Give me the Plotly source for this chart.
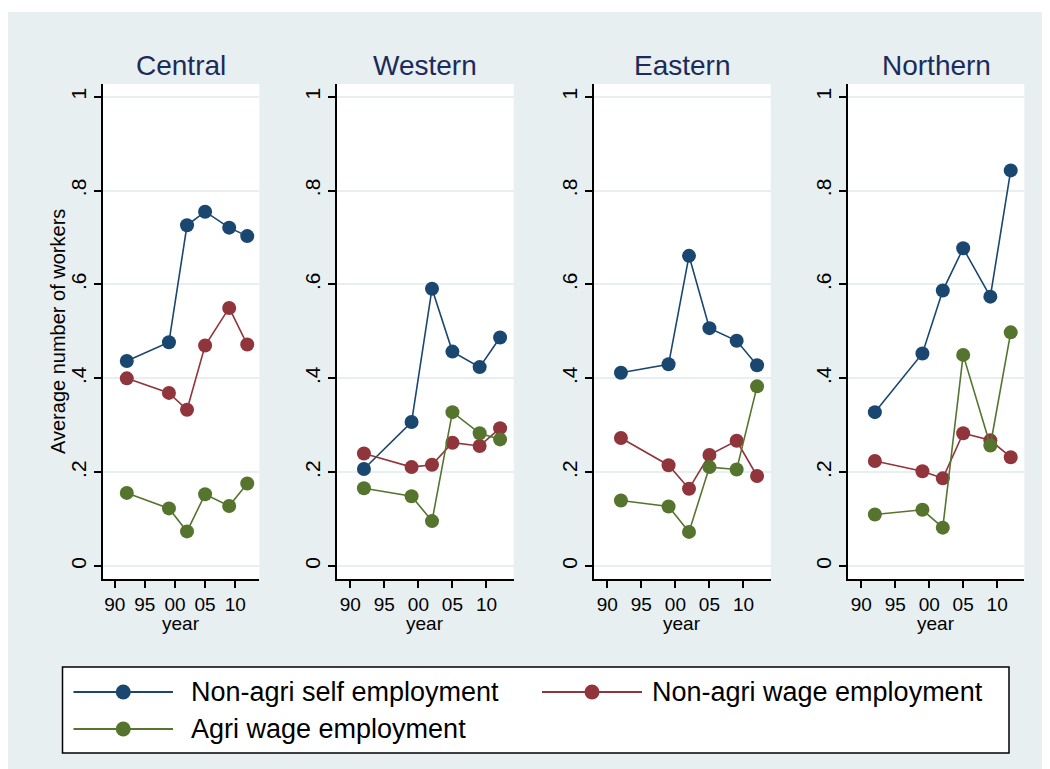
import plotly.graph_objects as go
from plotly.subplots import make_subplots

# survey years and regions
years = [1992, 1999, 2002, 2005, 2009, 2012]
regions = ["Central", "Western", "Eastern", "Northern"]
series_names = ["Non-agri self employment", "Non-agri wage employment", "Agri wage employment"]

# Non-agri self employment
central_self = [0.437, 0.477, 0.726, 0.755, 0.721, 0.703]
western_self = [0.207, 0.307, 0.591, 0.457, 0.424, 0.487]
eastern_self = [0.412, 0.430, 0.661, 0.507, 0.480, 0.428]
northern_self = [0.328, 0.453, 0.587, 0.677, 0.574, 0.843]

# Non-agri wage employment
central_wage = [0.400, 0.369, 0.333, 0.470, 0.550, 0.472]
western_wage = [0.240, 0.211, 0.216, 0.263, 0.256, 0.294]
eastern_wage = [0.273, 0.215, 0.165, 0.237, 0.267, 0.192]
northern_wage = [0.224, 0.202, 0.187, 0.283, 0.268, 0.232]

# Agri wage employment
central_agri = [0.156, 0.123, 0.074, 0.153, 0.128, 0.176]
western_agri = [0.166, 0.149, 0.096, 0.328, 0.283, 0.270]
eastern_agri = [0.140, 0.127, 0.073, 0.211, 0.206, 0.383]
northern_agri = [0.110, 0.120, 0.082, 0.450, 0.257, 0.498]

x_tickvals = [1990, 1995, 2000, 2005, 2010]
x_ticktext = ["90", "95", "00", "05", "10"]
y_tickvals = [0, 0.2, 0.4, 0.6, 0.8, 1]
y_ticktext = ["0", ".2", ".4", ".6", ".8", "1"]

panels = [
    (central_self, central_wage, central_agri),
    (western_self, western_wage, western_agri),
    (eastern_self, eastern_wage, eastern_agri),
    (northern_self, northern_wage, northern_agri),
]

colors = ["#1A476F", "#90353B", "#55752F"]
BG = "#E8EFF1"
FONT = "Liberation Sans, Arial, sans-serif"
# page body has an 8px margin, so the figure is a bit smaller than the window
OFF = 8
W, H = 1042, 761

# plot areas in page pixels (left, right), shared top/bottom
px_x = [(102.7, 259.3), (336.7, 513.7), (593.7, 770.7), (847.7, 1024.3)]
px_top, px_bot = 84, 579.3


def fx(p):
    return (p - OFF) / W


def fy(p):
    return 1 - (p - OFF) / H


fig = make_subplots(rows=1, cols=4)

for i, vals in enumerate(panels):
    for j, v in enumerate(vals):
        fig.add_trace(go.Scatter(
            x=years, y=v, mode="lines+markers", name=series_names[j],
            line=dict(color=colors[j], width=1.6),
            marker=dict(color=colors[j], size=14),
            showlegend=False,
        ), row=1, col=i + 1)

    fig.update_xaxes(
        domain=[fx(px_x[i][0]), fx(px_x[i][1])], range=[1988, 2014],
        tickvals=x_tickvals, ticktext=x_ticktext,
        showline=True, linecolor="black", linewidth=1.5,
        ticks="outside", ticklen=7, tickwidth=1.5, tickcolor="black",
        showgrid=False, zeroline=False,
        tickfont=dict(family=FONT, size=19, color="black"),
        row=1, col=i + 1)
    fig.update_yaxes(
        domain=[fy(px_bot), fy(px_top)], range=[-0.028, 1.027],
        tickvals=y_tickvals, ticktext=y_ticktext, tickangle=-90,
        showline=True, linecolor="black", linewidth=1.5,
        ticks="outside", ticklen=7, tickwidth=1.5, tickcolor="black",
        showgrid=True, gridcolor=BG, gridwidth=1.5, zeroline=False,
        tickfont=dict(family=FONT, size=21, color="black"),
        row=1, col=i + 1)

    cx = (px_x[i][0] + px_x[i][1]) / 2
    fig.add_annotation(text=regions[i], x=fx(cx), y=fy(66), xref="paper", yref="paper",
                       showarrow=False, xanchor="center", yanchor="middle",
                       font=dict(family=FONT, size=28, color="#1C2B5A"))
    fig.add_annotation(text="year", x=fx(cx), y=fy(623), xref="paper", yref="paper",
                       showarrow=False, xanchor="center", yanchor="middle",
                       font=dict(family=FONT, size=19, color="black"))

# y axis title
fig.add_annotation(text="Average number of workers", x=fx(58), y=fy(332),
                   xref="paper", yref="paper", showarrow=False, textangle=-90,
                   xanchor="center", yanchor="middle",
                   font=dict(family=FONT, size=20, color="black"))

shapes = [
    # white strip above the grey background
    dict(type="rect", xref="paper", yref="paper", x0=0, x1=1, y0=fy(12), y1=1,
         fillcolor="white", line_width=0, layer="below"),
    # legend box
    dict(type="rect", xref="paper", yref="paper", x0=fx(62.5), x1=fx(1009),
         y0=fy(753), y1=fy(667), fillcolor="white", line=dict(color="black", width=1.5)),
]

# legend entries: (line x0, line x1, row y, text x)
legend_pos = [(73.5, 173, 692, 189), (542, 642, 692, 650), (73.5, 173, 729, 189)]
for j, (lx0, lx1, ly, tx) in enumerate(legend_pos):
    shapes.append(dict(type="line", xref="paper", yref="paper",
                       x0=fx(lx0), x1=fx(lx1), y0=fy(ly), y1=fy(ly),
                       line=dict(color=colors[j], width=2)))
    mx = (lx0 + lx1) / 2
    r = 7.5
    shapes.append(dict(type="circle", xref="paper", yref="paper",
                       x0=fx(mx - r), x1=fx(mx + r), y0=fy(ly + r), y1=fy(ly - r),
                       fillcolor=colors[j], line=dict(color=colors[j], width=0)))
    fig.add_annotation(text=series_names[j], x=fx(tx), y=fy(ly), xref="paper", yref="paper",
                       showarrow=False, xanchor="left", yanchor="middle",
                       font=dict(family=FONT, size=27, color="black"))

fig.update_layout(
    width=W, height=H, autosize=False,
    margin=dict(l=0, r=0, t=0, b=0),
    paper_bgcolor=BG, plot_bgcolor="white",
    shapes=shapes,
    showlegend=False,
)

fig.write_html("out.html")
